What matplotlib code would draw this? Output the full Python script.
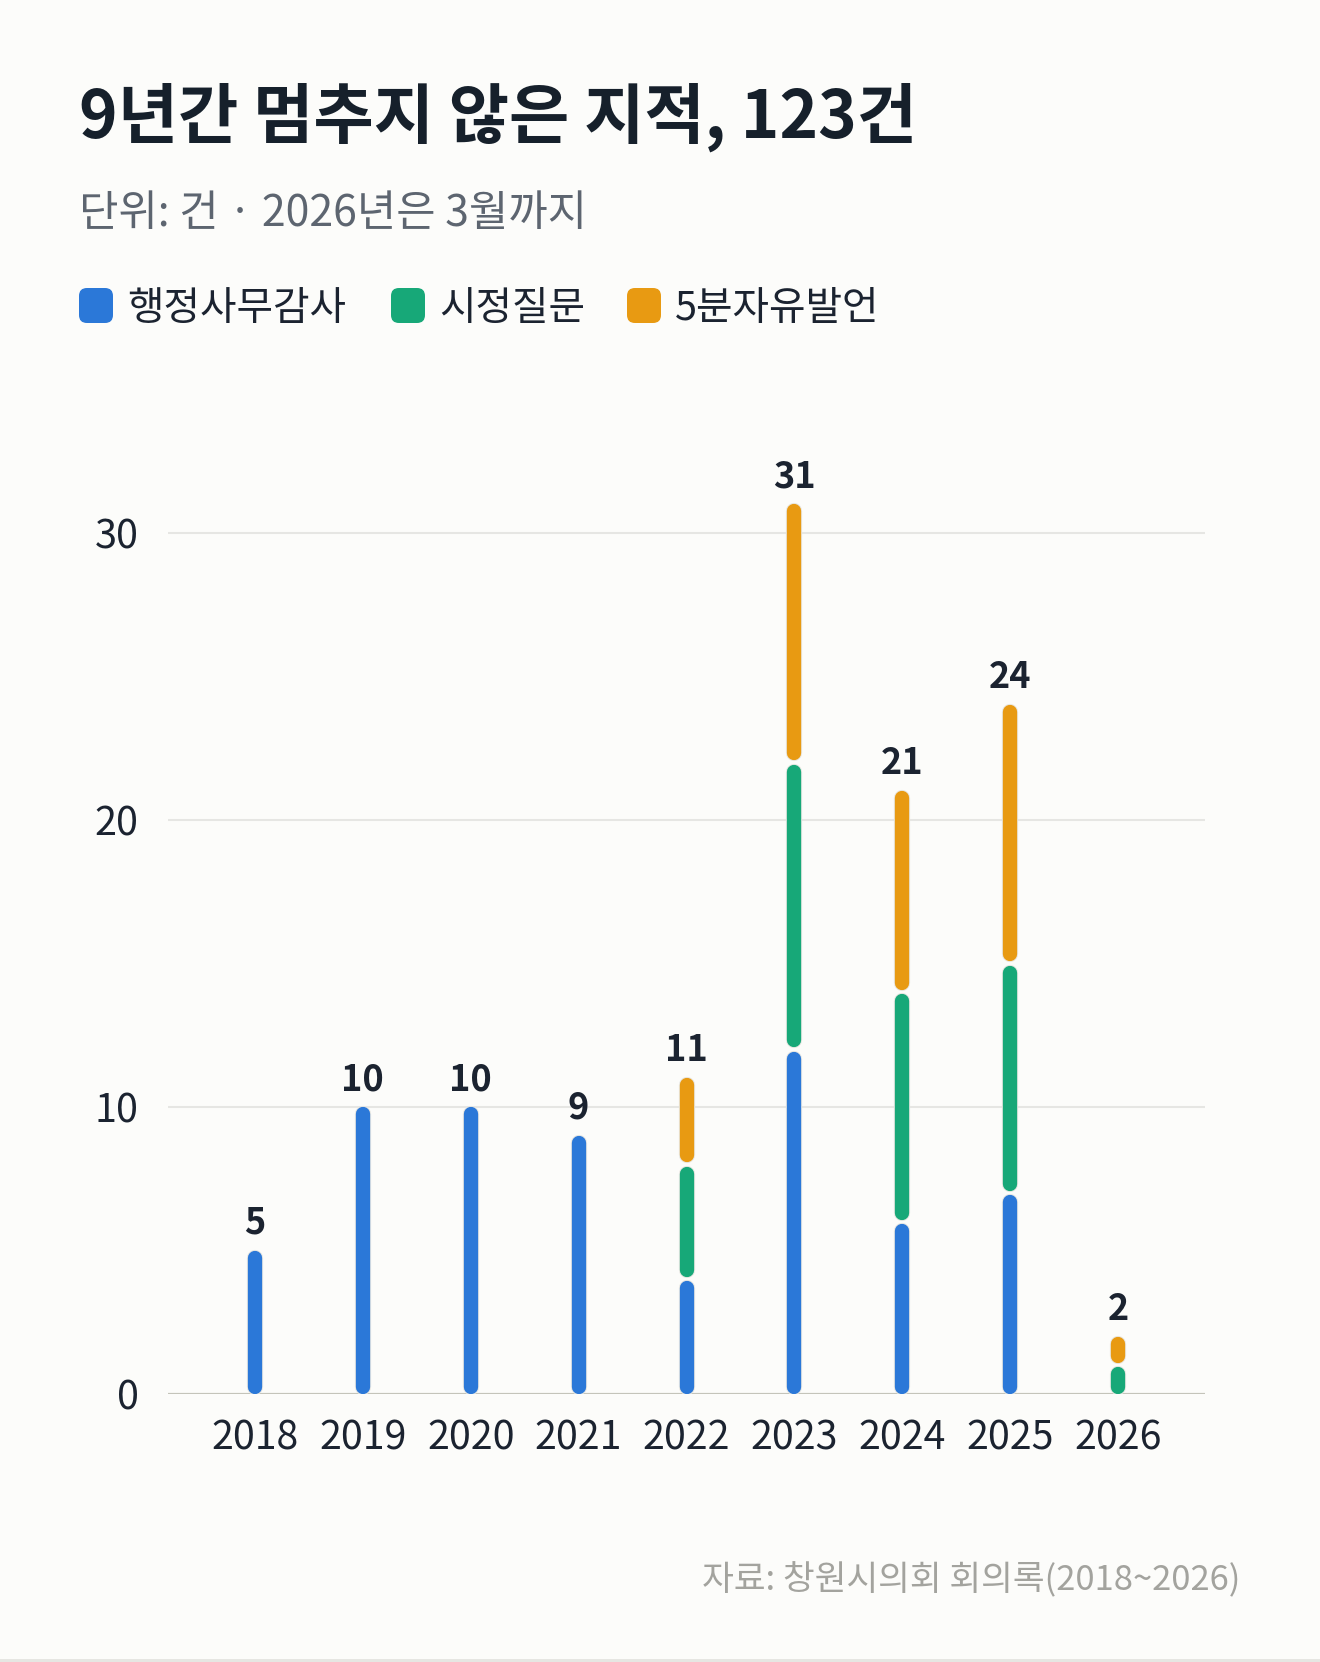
import matplotlib
matplotlib.use("Agg")
import matplotlib.pyplot as plt
from matplotlib.patches import FancyBboxPatch, Rectangle
import matplotlib.patheffects as pe

plt.rcParams['font.family'] = ['Noto Sans CJK KR', 'DejaVu Sans']

years = ["2018", "2019", "2020", "2021", "2022", "2023", "2024", "2025", "2026"]
audit = [5, 10, 10, 9, 4, 12, 6, 7, 0]        # 행정사무감사
question = [0, 0, 0, 0, 4, 10, 8, 8, 1]       # 시정질문
speech = [0, 0, 0, 0, 3, 9, 7, 9, 1]          # 5분자유발언
series_names = ["행정사무감사", "시정질문", "5분자유발언"]
colors = ["#2b78d8", "#17a878", "#e89a12"]
yticks = [0, 10, 20, 30]

title = "9년간 멈추지 않은 지적, 123건"
subtitle = "단위: 건 · 2026년은 3월까지"
source = "자료: 창원시의회 회의록(2018~2026)"

W, H = 1320, 1662
DPI = 100
BG = "#fcfcfa"
DARK = "#1b2330"

fig = plt.figure(figsize=(W / DPI, H / DPI), dpi=DPI, facecolor=BG)

def fx(px):
    return px / W

def fy(py):
    return 1 - py / H

# axes placement (pixels)
ax_left, ax_right, ax_base, ymax = 168, 1205, 1394, 35
unit = 28.7
ax_top = ax_base - ymax * unit
ax = fig.add_axes([fx(ax_left), fy(ax_base), (ax_right - ax_left) / W, (ax_base - ax_top) / H])
ax.set_facecolor(BG)
ax.set_xlim(-0.805, 8.805)
ax.set_ylim(0, ymax)
for s in ax.spines.values():
    s.set_visible(False)

for t in yticks[1:]:
    ax.axhline(t, color="#e6e6e3", lw=1.5, zorder=1)
ax.axhline(0, color="#c4c4ba", lw=2.3, zorder=3)

ax.set_yticks(yticks)
ax.set_yticklabels([str(t) for t in yticks])
ax.set_xticks(range(len(years)))
ax.set_xticklabels(years)
ax.tick_params(axis="y", length=0, pad=21, labelsize=28.5, labelcolor=DARK)
ax.tick_params(axis="x", length=0, pad=18, labelsize=28.3, labelcolor=DARK)

# rounded stacked segments
bar_lw_px = 14.3
r = bar_lw_px / 2
gap = 2.0
px2data = ymax / (ax_base - ax_top)
halo = [pe.Stroke(linewidth=bar_lw_px * 0.72 + 1.4, foreground="#e9e8e3"), pe.Normal()]

for i in range(len(years)):
    bottom = 0
    stack = [audit[i], question[i], speech[i]]
    for k, v in enumerate(stack):
        if v == 0:
            continue
        y0 = bottom
        y1 = bottom + v
        lo = y0 + (gap if y0 > 0 else 0) * px2data + r * px2data
        hi = y1 - (gap if y1 < sum(stack) else 0) * px2data - r * px2data
        ax.plot([i, i], [lo, hi], color=colors[k], lw=bar_lw_px * 0.72,
                solid_capstyle="round", zorder=4, path_effects=halo)
        bottom = y1
    total = sum(stack)
    ax.annotate(str(total), (i, total), xytext=(0, 12.2), textcoords="offset points",
                ha="center", va="baseline", fontsize=26, fontweight="bold",
                color=DARK, zorder=5)

# title block
fig.text(fx(79), fy(138), title, fontsize=47.2, fontweight="bold", color="#16202b",
         ha="left", va="baseline")
fig.text(fx(79), fy(226), subtitle, fontsize=30.8, color="#5d6570",
         ha="left", va="baseline")

# legend
leg_x = [79, 391, 627]
for k, name in enumerate(series_names):
    box = FancyBboxPatch((fx(leg_x[k]), fy(323)), fx(34), 35 / H,
                         boxstyle="round,pad=0,rounding_size=0.006",
                         transform=fig.transFigure, facecolor=colors[k],
                         edgecolor="none", mutation_aspect=W / H)
    fig.patches.append(box)
    fig.text(fx(leg_x[k] + 48), fy(320), name, fontsize=28.6, color=DARK,
             ha="left", va="baseline")

fig.text(fx(1240), fy(1590), source, fontsize=24.9, color="#a3a39e",
         ha="right", va="baseline")

fig.patches.append(Rectangle((0, 0), 1, 3 / H, transform=fig.transFigure,
                             facecolor="#e6e6e2", edgecolor="none"))

fig.savefig("out.png", dpi=DPI, facecolor=BG)
